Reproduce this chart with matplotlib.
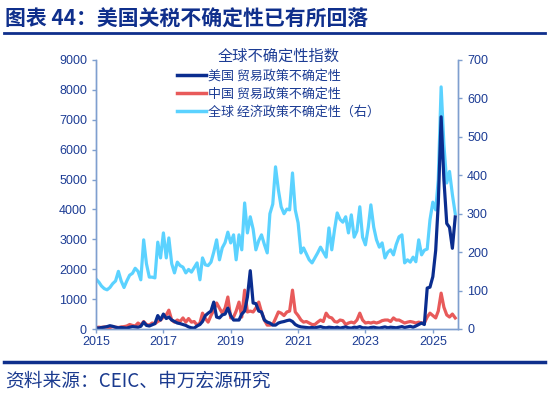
import numpy as np
import pandas as pd
import matplotlib
matplotlib.use("Agg")
import matplotlib.pyplot as plt
from matplotlib.lines import Line2D

plt.rcParams['font.family'] = ['Noto Sans CJK SC', 'DejaVu Sans']

# monthly, Jan 2015 .. Sep 2025
months = pd.date_range("2015-01-01", "2025-09-01", freq="MS")

us_trade = [
    40, 30, 50, 60, 80, 110, 90, 60, 40, 50, 40, 30,
    60, 80, 70, 60, 90, 230, 120, 100, 140, 180, 450, 300,
    500, 350, 400, 300, 250, 200, 180, 150, 120, 70, 40, 30,
    100, 150, 250, 450, 530, 600, 900, 400, 370, 470, 500, 700,
    450, 300, 300, 300, 500, 600, 1070, 1950, 870, 850, 600, 570,
    300, 230, 200, 130, 130, 200, 230, 250, 280, 300, 250, 150,
    100, 70, 60, 50, 40, 50, 40, 60, 80, 50, 40, 60,
    50, 40, 60, 30, 50, 70, 40, 30, 60, 50, 80, 40,
    40, 30, 50, 60, 40, 30, 50, 70, 40, 60, 50, 40,
    60, 80, 50, 70, 90, 60, 100, 150, 200, 150, 1370, 1400,
    1750, 2630, 4200, 7100, 5000, 3530, 3400, 2700, 3750,
]

cn_trade = [
    50, 60, 50, 70, 60, 50, 80, 60, 50, 70, 80, 100,
    150, 120, 100, 200, 130, 250, 150, 130, 200, 180, 250, 300,
    400, 470, 630, 300, 230, 300, 250, 370, 230, 350, 230, 250,
    130, 200, 530, 350, 230, 450, 630, 870, 700, 530, 700, 1070,
    370, 400, 600, 900, 400, 1300, 570, 600, 570, 700, 900, 570,
    300, 130, 130, 150, 350, 570, 530, 450, 570, 600, 1300, 570,
    450, 300, 230, 250, 200, 150, 150, 230, 300, 250, 530, 400,
    370, 250, 230, 300, 280, 150, 200, 230, 200, 300, 530, 300,
    200, 220, 200, 230, 200, 230, 280, 300, 300, 250, 370, 300,
    300, 250, 200, 230, 250, 230, 200, 230, 200, 200, 400, 530,
    450, 370, 600, 1200, 730, 470, 400, 500, 370,
]

global_epu = [
    130, 122, 112, 105, 102, 108, 118, 125, 150, 125, 108, 125,
    140, 145, 158, 150, 128, 232, 170, 135, 135, 133, 226, 185,
    250, 185, 237, 170, 146, 174, 165, 161, 146, 155, 148, 160,
    172, 128, 185, 167, 165, 174, 200, 232, 180, 211, 225, 252,
    224, 245, 180, 245, 206, 328, 250, 292, 260, 206, 230, 245,
    220, 198, 300, 325, 422, 362, 318, 300, 312, 310, 406, 310,
    276, 198, 211, 195, 180, 172, 185, 198, 213, 200, 187, 263,
    206, 260, 302, 285, 278, 292, 250, 297, 239, 255, 318, 239,
    219, 265, 323, 265, 232, 213, 224, 185, 200, 206, 193, 220,
    240, 245, 172, 180, 174, 187, 175, 232, 193, 205, 208, 284,
    330, 310, 388, 630, 480, 380, 410, 350, 300,
]

year_ticks = [2015, 2017, 2019, 2021, 2023, 2025]

navy = '#0a2d8f'
red = '#e85a5a'
sky = '#5bd2ff'
txt = '#1c3c94'
spine = '#7f9fcf'

fig = plt.figure(figsize=(5.49, 3.96), dpi=100)
ax = fig.add_axes([96/549, 1-329/396, (458-96)/549, (329-60)/396])
ax2 = ax.twinx()
ax.set_zorder(ax2.get_zorder() + 1)
ax.patch.set_visible(False)

ax2.plot(months, global_epu, color=sky, lw=2.3)
ax.plot(months, cn_trade, color=red, lw=2.3)
ax.plot(months, us_trade, color=navy, lw=2.3)

ax.set_ylim(0, 9000)
ax.set_yticks(range(0, 9001, 1000))
ax2.set_ylim(0, 700)
ax2.set_yticks(range(0, 701, 100))
ax.set_xlim(pd.Timestamp("2015-01-01"), pd.Timestamp("2025-10-01"))
ax.set_xticks([pd.Timestamp(f"{y}-01-01") for y in year_ticks])
ax.set_xticklabels([str(y) for y in year_ticks])

for a in (ax, ax2):
    a.spines['top'].set_visible(False)
    for s in ('left', 'right', 'bottom'):
        a.spines[s].set_color(spine)
        a.spines[s].set_linewidth(1.0)
    a.tick_params(colors=spine, labelcolor=txt, labelsize=9, length=3, width=1)
    for lab in a.get_xticklabels() + a.get_yticklabels():
        lab.set_family(['Liberation Sans', 'DejaVu Sans'])
ax.tick_params(axis='x', pad=2)

handles = [Line2D([], [], color=navy, lw=2.5),
           Line2D([], [], color=red, lw=2.5),
           Line2D([], [], color=sky, lw=2.5)]
labels = ['美国 贸易政策不确定性', '中国 贸易政策不确定性', '全球 经济政策不确定性（右）']
leg = ax.legend(handles, labels, title='全球不确定性指数', loc='upper left',
                bbox_to_anchor=(177/549, 1-48/396), bbox_transform=fig.transFigure,
                frameon=False, fontsize=9.4, title_fontsize=11,
                handlelength=2.2, handletextpad=0.2, labelspacing=0.38,
                borderpad=0, borderaxespad=0)
leg.get_title().set_color(txt)
for t in leg.get_texts():
    t.set_color(txt)

fig.text(5/549, 1-19/396, '图表 44：美国关税不确定性已有所回落', fontsize=15,
         fontweight='bold', color='#0f2f8c', va='center', ha='left')
fig.add_artist(Line2D([4/549, 545/549], [1-33/396, 1-33/396], color='#0f2f8c', lw=2))
fig.add_artist(Line2D([4/549, 545/549], [1-362/396, 1-362/396], color='#0f2f8c', lw=2.5))
fig.text(5/549, 1-381/396, '资料来源：CEIC、申万宏源研究', fontsize=13.5,
         color='#1a3a8f', va='center', ha='left')

fig.savefig("out.png", dpi=100)
